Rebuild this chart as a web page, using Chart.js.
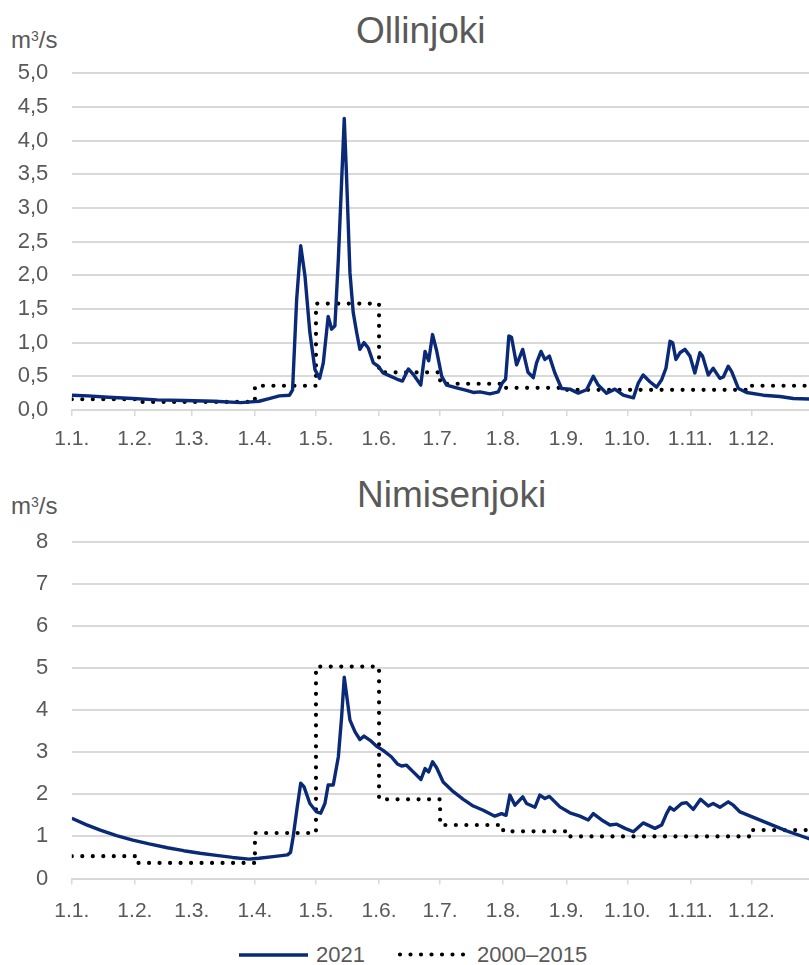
<!DOCTYPE html>
<html>
<head>
<meta charset="utf-8">
<script src="https://cdn.jsdelivr.net/npm/chart.js@4.4.1/dist/chart.umd.min.js"></script>
<style>
  html, body { margin: 0; padding: 0; background: #fff; width: 809px; height: 965px; overflow: hidden; }
  body { position: relative; font-family: 'Liberation Sans', Arial, sans-serif; color: #595959; }
  canvas { position: absolute; left: 0; }
  .title { position: absolute; font-size: 37px; line-height: 37px; white-space: nowrap; }
  .unit { position: absolute; left: 11px; font-size: 24px; line-height: 24px; white-space: nowrap; }
  .unit sup { font-size: 14px; vertical-align: baseline; position: relative; top: -7px; }
  .legtext { position: absolute; font-size: 22px; line-height: 22px; white-space: nowrap; }
  #legsvg { position: absolute; left: 0; top: 940px; }
</style>
</head>
<body>
<div class="title" style="left:356px; top:12px;">Ollinjoki</div>
<div class="unit" style="top:28px;">m<sup>3</sup>/s</div>
<canvas id="olli" width="809" height="460" style="top:0px;"></canvas>

<div class="title" style="left:357px; top:476px;">Nimisenjoki</div>
<div class="unit" style="top:494px;">m<sup>3</sup>/s</div>
<canvas id="nimi" width="809" height="470" style="top:460px;"></canvas>

<svg id="legsvg" width="809" height="30">
  <line x1="239" y1="15" x2="308" y2="15" stroke="#0a2a78" stroke-width="3.4"/>
  <line x1="400" y1="14.5" x2="465" y2="14.5" stroke="#000" stroke-width="4.2" stroke-linecap="round" stroke-dasharray="0 10.5"/>
</svg>
<div class="legtext" style="left:316px; top:944px;">2021</div>
<div class="legtext" style="left:477px; top:944px;">2000–2015</div>

<script>
// Month axis: labels and the day-of-year where each month starts
const months = ['1.1.', '1.2.', '1.3.', '1.4.', '1.5.', '1.6.', '1.7.', '1.8.', '1.9.', '1.10.', '1.11.', '1.12.'];
const monthStartDays = [0, 31, 59, 90, 120, 151, 181, 212, 243, 273, 304, 334];

// Ollinjoki, discharge 2021 (day of year, m3/s)
const olliDays = [0, 8, 18, 30, 42, 55, 70, 83, 88, 92, 97, 102, 107, 108.5, 110.5, 112.5, 114.6, 117, 119.5, 121.8,
  123.6, 126, 127.7, 129.3, 131, 132.6, 133.9, 135, 136.7, 138.3, 140, 141.6, 143.6, 145.7, 148.2, 150.6, 153, 156,
  159.7, 162.5, 165.4, 167.8, 171.5, 173.6, 175.4, 177.3, 179.3, 181.8, 184.2, 189.1, 194, 197.3, 200.6, 205.5, 209.6,
  211.5, 213.2, 214.8, 216.1, 218.6, 221.6, 224.2, 226.8, 228.4, 230.6, 232.5, 234.7, 237.4, 240.7, 244.8, 248.9, 253,
  256.3, 258.7, 262.8, 266.9, 271, 276, 278.4, 280.8, 284.1, 287.4, 289.9, 292, 294, 295.3, 296.9, 298.9, 301.3, 303.8,
  306.2, 308.7, 310, 312.8, 315.2, 318.5, 320.2, 322.6, 324.3, 327.6, 331.6, 339.8, 348, 354.6, 365];
const olli2021 = [0.22, 0.21, 0.19, 0.17, 0.15, 0.14, 0.13, 0.11, 0.12, 0.13, 0.17, 0.21, 0.22, 0.30, 1.64, 2.44, 1.99, 1.15, 0.60, 0.47,
  0.70, 1.39, 1.20, 1.25, 2.24, 3.39, 4.33, 3.49, 2.04, 1.45, 1.15, 0.90, 1.00, 0.92, 0.70, 0.65, 0.55, 0.51,
  0.46, 0.43, 0.61, 0.53, 0.37, 0.87, 0.73, 1.12, 0.88, 0.50, 0.37, 0.33, 0.29, 0.26, 0.27, 0.24, 0.27,
  0.40, 0.46, 1.10, 1.08, 0.67, 0.90, 0.56, 0.48, 0.70, 0.87, 0.75, 0.80, 0.55, 0.32, 0.31, 0.25, 0.30,
  0.50, 0.37, 0.25, 0.31, 0.22, 0.18, 0.40, 0.52, 0.42, 0.34, 0.45, 0.62, 1.02, 1.00, 0.75, 0.85, 0.90, 0.80,
  0.55, 0.85, 0.80, 0.52, 0.62, 0.47, 0.49, 0.65, 0.57, 0.32, 0.26, 0.22, 0.20, 0.17, 0.16];
// Ollinjoki, monthly mean 2000–2015
const olliMean = [0.16, 0.12, 0.12, 0.36, 1.58, 0.56, 0.39, 0.33, 0.30, 0.30, 0.30, 0.36];

// Nimisenjoki, discharge 2021 (day of year, m3/s)
const nimiDays = [0, 7, 14, 22, 30, 38, 47, 55, 63, 71, 79, 87, 92, 99, 106, 107.5, 108.8, 110.8, 112.5, 114.1, 117,
  120.3, 122.3, 124.4, 126, 128.5, 131, 132.6, 133.9, 135.4, 136.7, 139.2, 141.6, 143.6, 146.6, 149.8, 153, 157, 160,
  162.1, 164.5, 167.8, 171.6, 173.6, 175.4, 177.3, 179.3, 182.5, 187.5, 192.4, 197.3, 202.2, 207.9, 211.2, 213.4,
  215.3, 217.8, 221.6, 223.5, 227.6, 230, 232.5, 234.7, 239.9, 244.8, 249.7, 253.8, 256.3, 260.4, 264.5, 267.8, 271.9,
  276, 280.8, 286.6, 289.9, 292.3, 294, 295.9, 299.7, 302.1, 305.4, 309, 312.8, 315.2, 318.5, 322.6, 325.1, 328.4, 335,
  343.1, 351.3, 362, 365];
const nimi2021 = [1.43, 1.28, 1.15, 1.02, 0.91, 0.82, 0.73, 0.66, 0.60, 0.55, 0.50, 0.46, 0.48, 0.52, 0.56, 0.62, 0.99, 1.70, 2.26, 2.18, 1.78,
  1.58, 1.55, 1.78, 2.22, 2.22, 2.89, 3.83, 4.78, 4.23, 3.76, 3.48, 3.30, 3.38, 3.28, 3.14, 3.04, 2.89, 2.72,
  2.67, 2.69, 2.53, 2.35, 2.61, 2.53, 2.77, 2.63, 2.29, 2.06, 1.88, 1.72, 1.62, 1.48, 1.54, 1.50,
  1.98, 1.74, 1.94, 1.78, 1.69, 1.98, 1.90, 1.95, 1.70, 1.56, 1.48, 1.39, 1.54, 1.39, 1.27, 1.29, 1.19,
  1.11, 1.32, 1.19, 1.27, 1.54, 1.69, 1.62, 1.78, 1.80, 1.64, 1.88, 1.72, 1.78, 1.69, 1.82, 1.74, 1.58, 1.45,
  1.29, 1.13, 0.95, 0.92];
// Nimisenjoki, monthly mean 2000–2015
const nimiMean = [0.53, 0.37, 0.37, 1.08, 5.03, 1.88, 1.27, 1.12, 1.00, 1.00, 1.00, 1.15];

const TEXT = '#595959';
const GRID = '#d9d9d9';
const NAVY = '#0a2a78';
Chart.defaults.font.family = "'Liberation Sans', Arial, sans-serif";
Chart.defaults.color = TEXT;

function pairs(xs, ys) {
  return xs.map((x, i) => ({ x: x, y: ys[i] }));
}
function monthlySteps(means) {
  const pts = monthStartDays.map((d, i) => ({ x: d, y: means[i] }));
  pts.push({ x: 365, y: means[means.length - 1] });
  return pts;
}

function makeChart(id, days, flow, means, opts) {
  return new Chart(document.getElementById(id), {
    type: 'line',
    data: {
      datasets: [
        {
          label: '2021',
          data: pairs(days, flow),
          borderColor: NAVY,
          borderWidth: 3.4,
          pointRadius: 0,
          borderJoinStyle: 'round',
          tension: 0
        },
        {
          label: '2000–2015',
          data: monthlySteps(means),
          borderColor: '#000',
          borderWidth: 4.2,
          borderDash: [0, 10.5],
          borderCapStyle: 'round',
          pointRadius: 0,
          stepped: 'before'
        }
      ]
    },
    options: {
      responsive: false,
      animation: false,
      layout: { padding: { top: opts.padTop, left: 0, right: 0, bottom: 0 } },
      plugins: { legend: { display: false }, tooltip: { enabled: false }, title: { display: false } },
      scales: {
        x: {
          type: 'linear',
          min: 0,
          max: 362.3,
          afterBuildTicks: (axis) => { axis.ticks = monthStartDays.map(d => ({ value: d })); },
          afterFit: (axis) => { axis.height = opts.axisHeight; },
          ticks: {
            autoSkip: false,
            maxRotation: 0,
            padding: opts.xPad,
            font: { size: 21 },
            color: TEXT,
            callback: (v, i) => months[i]
          },
          grid: { drawOnChartArea: false, drawTicks: true, tickLength: 6, color: GRID, lineWidth: 1.5 },
          border: { display: true, color: GRID, width: 2 }
        },
        y: {
          min: 0,
          max: opts.yMax,
          afterFit: (axis) => { axis.width = 71.8; },
          ticks: {
            stepSize: opts.yStep,
            padding: 23.5,
            font: { size: 22 },
            color: TEXT,
            callback: opts.fmt
          },
          grid: { color: GRID, lineWidth: 2, drawTicks: false },
          border: { display: false }
        }
      }
    }
  });
}

makeChart('olli', olliDays, olli2021, olliMean, {
  padTop: 73.3, axisHeight: 50, xPad: 11, yMax: 5, yStep: 0.5,
  fmt: (v) => v.toFixed(1).replace('.', ',')
});
makeChart('nimi', nimiDays, nimi2021, nimiMean, {
  padTop: 81.5, axisHeight: 51.5, xPad: 14, yMax: 8, yStep: 1,
  fmt: (v) => String(v)
});
</script>
</body>
</html>
